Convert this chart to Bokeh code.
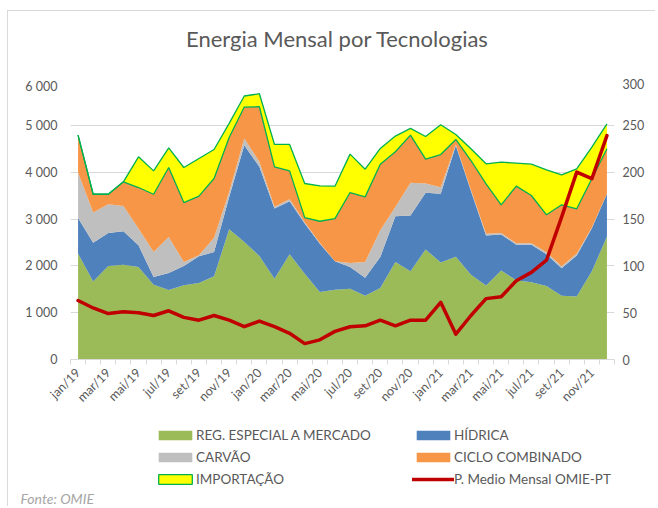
from math import pi
from bokeh.plotting import figure
from bokeh.layouts import column
from bokeh.models import (ColumnDataSource, Range1d, LinearAxis, FixedTicker,
                          Legend, LegendItem, Label, Title)
from bokeh.transform import stack
from bokeh.embed import file_html
from bokeh.resources import INLINE

# ---------------- data ----------------
meses = ["jan/19", "fev/19", "mar/19", "abr/19", "mai/19", "jun/19",
         "jul/19", "ago/19", "set/19", "out/19", "nov/19", "dez/19",
         "jan/20", "fev/20", "mar/20", "abr/20", "mai/20", "jun/20",
         "jul/20", "ago/20", "set/20", "out/20", "nov/20", "dez/20",
         "jan/21", "fev/21", "mar/21", "abr/21", "mai/21", "jun/21",
         "jul/21", "ago/21", "set/21", "out/21", "nov/21", "dez/21"]

reg_especial = [2260, 1668, 1996, 2025, 1975, 1597, 1483, 1583, 1633, 1775, 2780, 2510,
                2210, 1725, 2246, 1832, 1440, 1490, 1512, 1362, 1526, 2082, 1882, 2350,
                2070, 2195, 1810, 1582, 1902, 1690, 1650, 1570, 1360, 1347, 1885, 2620]
hidrica = [763, 827, 706, 713, 463, 164, 364, 413, 570, 521, 692, 2067,
           1904, 1498, 1134, 1070, 1034, 606, 463, 385, 663, 977, 1191, 1208,
           1470, 2375, 1790, 1066, 768, 760, 800, 680, 590, 873, 915, 918]
carvao = [970, 642, 613, 542, 357, 535, 770, 86, 22, 306, 107, 143,
          107, 37, 40, 28, 16, 4, 85, 335, 570, 199, 699, 200,
          140, 20, 20, 35, 30, 30, 30, 40, 40, 40, 20, 7]
ciclo_combinado = [798, 392, 214, 513, 877, 1233, 1483, 1269, 1262, 1263, 1162, 670,
                   1176, 854, 608, 100, 462, 909, 1505, 1390, 1412, 1177, 1019, 520,
                   697, 108, 629, 1068, 603, 1221, 1022, 800, 1313, 958, 1038, 954]
importacao = [0, 0, 0, 0, 656, 499, 420, 749, 805, 620, 300, 236,
              278, 478, 564, 728, 756, 691, 820, 592, 335, 335, 143, 484,
              634, 107, 250, 427, 911, 491, 668, 960, 641, 854, 676, 534]
preco_omie_pt = [63, 55, 49, 51, 50, 47, 52, 45, 42, 47, 42, 35,
                 41, 35, 28, 17, 21, 30, 35, 36, 42, 36, 42, 42,
                 61, 27, 47, 65, 67, 84, 93, 106, 152, 200, 193, 239]

y_ticks = [0, 1000, 2000, 3000, 4000, 5000, 6000]
y_tick_labels = ["0", "1 000", "2 000", "3 000", "4 000", "5 000", "6 000"]
y2_ticks = [0, 50, 100, 150, 200, 250, 300]

series_names = ["REG. ESPECIAL A MERCADO", "HÍDRICA", "CARVÃO",
                "CICLO COMBINADO", "IMPORTAÇÃO"]
price_name = "P. Medio Mensal OMIE-PT"
title_text = "Energia Mensal por Tecnologias"
source_text = "Fonte: OMIE"

# ---------------- styles ----------------
FONT = "Lato"
TXT = "#595959"
GRID = "#D9D9D9"
colors = ["#9BBB59", "#4F81BD", "#BFBFBF", "#F79646", "#FFFF00"]
IMP_LINE = "#00B050"
PRICE_COLOR = "#C00000"
FW, BL, BR = 543, 62, 42          # frame width, left / right borders
H0, H2 = 67, 68                   # title strip, legend strip frame heights

n = len(meses)
x_idx = list(range(n))
src = ColumnDataSource(dict(x=x_idx, reg=reg_especial, hid=hidrica, carv=carvao,
                            cc=ciclo_combinado, imp=importacao, preco=preco_omie_pt))
keys = ["reg", "hid", "carv", "cc", "imp"]


def strip(h):
    f = figure(frame_width=FW, frame_height=h, output_backend="svg",
               toolbar_location=None, x_range=Range1d(0, FW), y_range=Range1d(0, h),
               x_axis_location=None, y_axis_location=None,
               min_border_left=BL, min_border_right=BR, min_border_top=0,
               min_border_bottom=0, background_fill_color="white",
               border_fill_color="white", outline_line_color=None)
    f.grid.visible = False
    return f


# ---------------- title strip ----------------
p0 = strip(H0)
p0.styles = {"border-left": "1px solid #D9D9D9", "border-top": "1px solid #D9D9D9",
             "margin-top": "10px", "margin-left": "7px"}
p0.add_layout(Label(x=FW / 2 - 5, y=H0 - 27, text=title_text, text_font=FONT,
                    text_font_size="22px", text_color=TXT, text_align="center",
                    text_baseline="middle"))

# ---------------- main chart ----------------
p = figure(frame_width=FW, frame_height=281, output_backend="svg",
           toolbar_location=None, x_range=Range1d(-0.5, n - 0.5),
           y_range=Range1d(y_ticks[0], y_ticks[-1]),
           min_border_left=BL, min_border_right=BR, min_border_top=0,
           min_border_bottom=60, background_fill_color="white",
           border_fill_color="white", outline_line_color=None)
p.styles = {"border-left": "1px solid #D9D9D9", "margin-left": "7px"}

areas = p.varea_stack(stackers=keys, x="x", color=colors, source=src)
# outline of the import band
p.line(x="x", y=stack(*keys[:4]), source=src, line_color=IMP_LINE, line_width=1.3)
p.line(x="x", y=stack(*keys), source=src, line_color=IMP_LINE, line_width=1.3)

p.extra_y_ranges = {"price": Range1d(y2_ticks[0], y2_ticks[-1])}
p.line(x="x", y="preco", source=src, y_range_name="price",
       line_color=PRICE_COLOR, line_width=3.5, line_join="round", line_cap="round")

p.yaxis.ticker = FixedTicker(ticks=y_ticks)
p.yaxis.major_label_overrides = dict(zip(y_ticks, y_tick_labels))
ax_r = LinearAxis(y_range_name="price", ticker=FixedTicker(ticks=y2_ticks))
p.add_layout(ax_r, "right")
for ax in (p.yaxis[0], ax_r):
    ax.axis_line_color = None
    ax.major_tick_line_color = None
    ax.minor_tick_line_color = None
    ax.major_tick_in = 0
    ax.major_tick_out = 0
    ax.major_label_text_font = FONT
    ax.major_label_text_font_size = "12.5px"
    ax.major_label_text_color = TXT
p.yaxis[0].major_label_standoff = 13
ax_r.major_label_standoff = 8

label_pos = x_idx[::2]
p.xaxis.ticker = FixedTicker(ticks=label_pos,
                             minor_ticks=[i - 0.5 for i in range(n + 1)])
p.xaxis.major_label_overrides = {i: meses[i] for i in label_pos}
p.xaxis.major_label_orientation = pi / 4
p.xaxis.major_tick_line_color = None
p.xaxis.major_tick_in = 0
p.xaxis.major_tick_out = 0
p.xaxis.minor_tick_line_color = GRID
p.xaxis.minor_tick_in = 0
p.xaxis.minor_tick_out = 5
p.xaxis.axis_line_color = GRID
p.xaxis.major_label_standoff = 6
p.xaxis.major_label_text_font = FONT
p.xaxis.major_label_text_font_size = "12.5px"
p.xaxis.major_label_text_color = TXT

p.xgrid.grid_line_color = None
p.ygrid.ticker = FixedTicker(ticks=y_ticks)
p.ygrid.grid_line_color = GRID

# ---------------- legend strip ----------------
p2 = strip(H2)
p2.styles = {"border-left": "1px solid #D9D9D9", "margin-left": "7px"}
k_areas = [p2.vbar(x="x", top=k, width=0.8, source=src, fill_color=c,
                   line_color=None, visible=False)
           for k, c in zip(keys[:4], colors[:4])]
k_imp = p2.vbar(x="x", top="imp", width=0.8, source=src, fill_color=colors[4],
                line_color=IMP_LINE, line_width=1.3, visible=False)
k_price = p2.line(x="x", y="preco", source=src, line_color=PRICE_COLOR,
                  line_width=3.5, line_cap="round", visible=False)

leg_style = dict(glyph_width=42, glyph_height=12, label_standoff=0, spacing=0,
                 label_height=22, padding=0, margin=0, border_line_color=None,
                 background_fill_alpha=0, inactive_fill_alpha=0,
                 label_text_font=FONT, label_text_font_size="13.5px",
                 label_text_color=TXT)
leg1 = Legend(items=[LegendItem(label=series_names[0], renderers=[k_areas[0]]),
                     LegendItem(label=series_names[2], renderers=[k_areas[2]]),
                     LegendItem(label=series_names[4], renderers=[k_imp])],
              location=(84, -3), **leg_style)
leg2 = Legend(items=[LegendItem(label=series_names[1], renderers=[k_areas[1]]),
                     LegendItem(label=series_names[3], renderers=[k_areas[3]]),
                     LegendItem(label=price_name, renderers=[k_price])],
              location=(342, -3), **leg_style)
p2.add_layout(leg1, "center")
p2.add_layout(leg2, "center")
p2.add_layout(Title(text=source_text, align="left", offset=-50, standoff=0,
                    text_font=FONT, text_font_size="14px",
                    text_font_style="italic", text_color="#A6A6A6"), "below")

lay = column(p0, p, p2, spacing=0)
open("out.html", "w").write(file_html(lay, INLINE))
